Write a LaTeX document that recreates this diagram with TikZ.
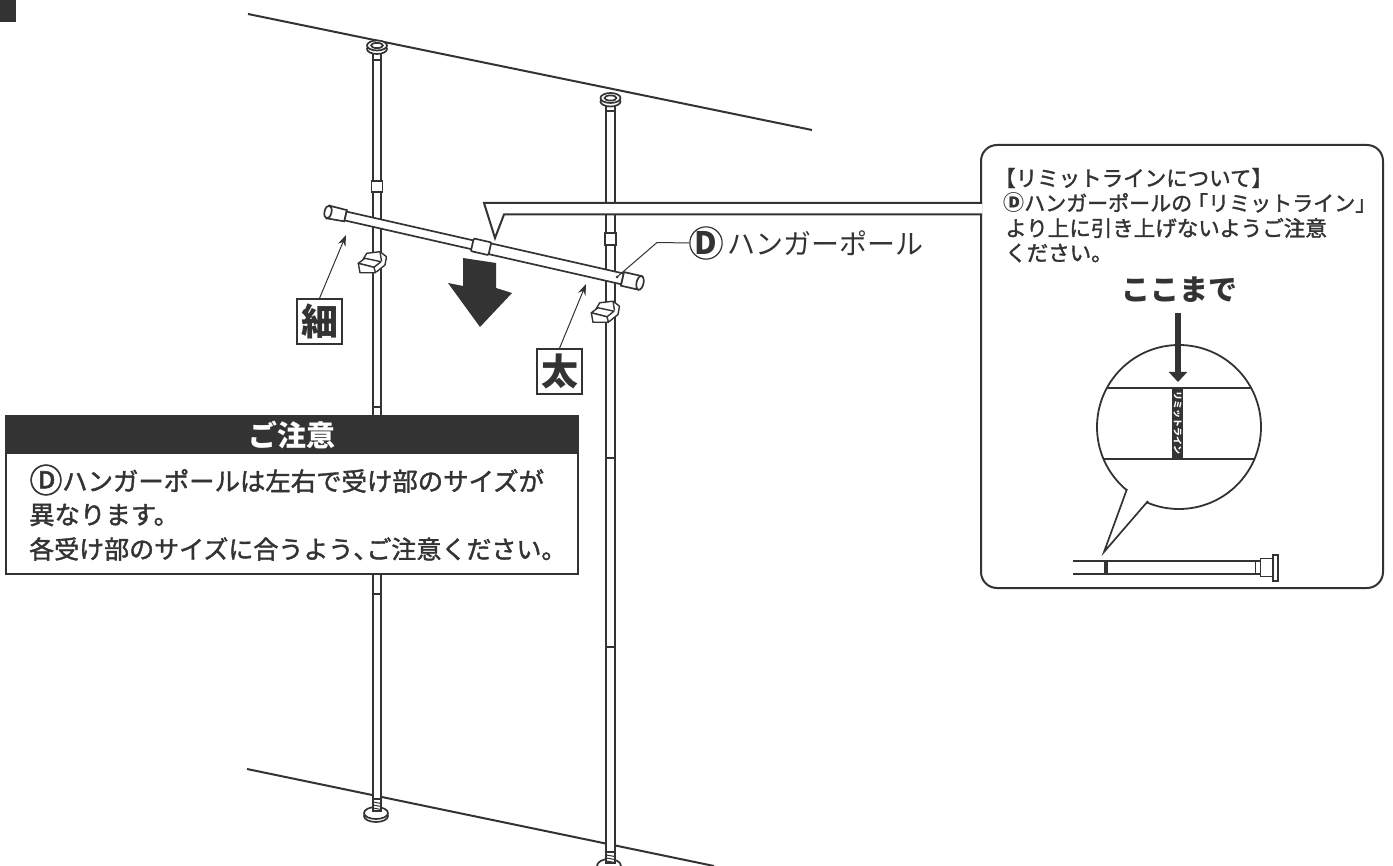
\documentclass[tikz,border=0pt]{standalone}
\usepackage{fontspec}
\usetikzlibrary{arrows.meta}
\newfontfamily\jp{Noto Sans CJK JP}
\newfontfamily\jpm[FakeBold=1.6]{Noto Sans CJK JP}
\definecolor{ink}{HTML}{333333}
\tikzset{
 ln/.style={draw=ink,line width=1.7pt},
 thin ln/.style={draw=ink,line width=1pt},
 plane/.style={draw=ink,line width=2pt},
 lab/.style={draw=ink,line width=1.4pt,fill=white,minimum width=45pt,minimum height=45pt,inner sep=0pt,font=\jp\bfseries\fontsize{37}{37}\selectfont,text=ink},
 ptr/.style={draw=ink,line width=1pt,-{Stealth[length=11pt,width=8pt]}},
 txt/.style={anchor=west,inner sep=0pt,text=ink,font=\jpm\fontsize{25.4}{25.4}\selectfont},
 ntxt/.style={anchor=west,inner sep=0pt,text=ink,font=\jpm\fontsize{21.5}{21.5}\selectfont},
}
\newcommand{\hookshape}[2]{%
 \begin{scope}[shift={(#1,#2)},line join=round]
  \filldraw[fill=white,draw=ink,line width=1.4pt] (363.3,259) -- (366.7,253.3) -- (380,251.7) -- (386.5,256.7) -- (385,265) -- (376.7,271.7) -- (372,272) -- cycle;
  \draw[draw=ink,line width=1.4pt] (380,251.7) -- (381.5,261);
  \filldraw[fill=white,draw=ink,line width=1.4pt] (358.3,263.3) -- (365,258.3) -- (381,261.7) -- (374,267.3) -- cycle;
  \filldraw[fill=white,draw=ink,line width=1.4pt] (358.3,263.3) -- (374,267.3) -- (375.5,272.8) -- (360,272.8) -- cycle;
 \end{scope}}
\begin{document}
\begin{tikzpicture}[x=1pt,y=-1pt]
\useasboundingbox (0,0) rectangle (1393,866);
\clip (0,0) rectangle (1393,866);
\fill[ink] (0,0) rectangle (16,22);
% ceiling and floor
\draw[plane] (248,14) -- (812,130);
\draw[plane] (247,769) -- (714,866);
% left pole
\filldraw[fill=white,draw=none] (373,52) rectangle (381,806);
\draw[ln] (373,52) -- (373,806) (381,52) -- (381,806);
\draw[ln] (373,60) -- (381,60) (373,407) -- (381,407) (373,594) -- (381,594);
\filldraw[ln,fill=white] (371.5,181) rectangle (382.5,192);
\filldraw[fill=white,ln] (377,49) ellipse[x radius=10,y radius=5];
\filldraw[fill=white,ln] (377,45.5) ellipse[x radius=10,y radius=5];
\draw[ln] (377,45.5) ellipse[x radius=6,y radius=2.6];
% right pole
\draw[ln,fill=white] (606,103) rectangle (615,866);
\draw[ln] (606,111) -- (615,111) (606,458) -- (615,458) (606,647) -- (615,647);
\filldraw[ln,fill=white] (605,233) rectangle (616,245);
\filldraw[fill=white,ln] (610.5,101.5) ellipse[x radius=10,y radius=5];
\filldraw[fill=white,ln] (610.5,98) ellipse[x radius=10,y radius=5];
\draw[ln] (610.5,98) ellipse[x radius=6,y radius=2.6];
% feet
\filldraw[fill=white,ln] (376,816) ellipse[x radius=12,y radius=6];
\filldraw[fill=white,ln] (376,813) ellipse[x radius=12,y radius=6];
\draw[ln,fill=white] (373,799) rectangle (381,811);
\foreach \yy in {802,805,808} \draw[thin ln] (373,\yy) -- (381,\yy+1.5);
\filldraw[fill=white,ln] (609,866) ellipse[x radius=12,y radius=7];
\draw[ln,fill=white] (606,852) rectangle (615,863);
\foreach \yy in {855,858,861} \draw[thin ln] (606,\yy) -- (615,\yy+1.5);
% hooks
\hookshape{0}{0}
\hookshape{233}{49.5}
% hanger pole
\begin{scope}[shift={(328,212)},rotate=-12.8]
 \filldraw[fill=white,ln] (0,-6.5) -- (18,-6) -- (18,5.5) -- (0,6.5) -- cycle;
 \filldraw[fill=white,ln] (0,0) ellipse[x radius=3.5,y radius=6.5];
 \filldraw[fill=white,ln] (18,-4.5) -- (150,-4.5) -- (150,4.5) -- (18,4.5) -- cycle;
 \filldraw[fill=white,ln] (165,-5.5) -- (302,-5.5) -- (302,5.5) -- (165,5.5) -- cycle;
 \filldraw[fill=white,ln,rounded corners=1pt] (148,-6.5) rectangle (166,6.5);
 \filldraw[fill=white,ln] (302,-7) -- (320,-7) -- (320,7) -- (302,7) -- cycle;
 \filldraw[fill=white,ln] (320,0) ellipse[x radius=3.5,y radius=7];
\end{scope}
% big arrow
\fill[ink] (463,258) -- (496,263) -- (496,288) -- (512,293) -- (480,327) -- (448,283) -- (463,286) -- cycle;
% labels
\node[lab] (hoso) at (319.5,321.5) {細};
\node[lab] (futo) at (559.5,371.5) {太};
\coordinate (hosoT) at (346,235);
\coordinate (futoT) at (586,284);
\draw[ptr] (hoso.north) -- (hosoT);
\draw[ptr] (futo.north) -- (futoT);
% D label
\node[circle,draw=ink,line width=1.2pt,minimum size=32pt,inner sep=0pt,font=\jp\bfseries\fontsize{31}{31}\selectfont,text=ink] (dmark) at (706,243) {D};
\node[anchor=west,inner sep=0pt,text=ink,font=\jp\fontsize{28}{28}\selectfont] (dname) at (727,243) {ハンガーポール};
\coordinate (dstart) at (617,277);
\coordinate (dbend) at (657,242.5);
\draw[thin ln] (dstart) -- (dbend) -- (dmark.west);
\fill[ink] (dstart) circle (1.5);
% note box
\node[draw=ink,line width=2pt,rounded corners=16pt,fill=white,minimum width=402pt,minimum height=443pt,inner sep=0pt] (note) at (1182,366.5) {};
\coordinate (cA) at (484,203);
\coordinate (cB) at (495,238);
\coordinate (cC) at (504,214.5);
\coordinate (cD) at (982,203);
\coordinate (cE) at (982,214.5);
\fill[white] (cA) -- (cD) -- (cE) -- (cC) -- (cB) -- cycle;
\draw[plane] (cD) -- (cA) -- (cB) -- (cC) -- (cE);
\node[ntxt] (n1) at (994,178) {【リミットラインについて】};
\node[ntxt,font=\jpm\fontsize{21}{21}\selectfont] (n2) at (1003,203) {{\jp\bfseries Ⓓ}ハンガーポールの\kern-5pt「リミットライン」};
\node[ntxt] (n3) at (1005,228) {より上に引き上げないようご注意};
\node[ntxt] (n4) at (1005,253) {ください。};
\node[inner sep=0pt,text=ink,font=\jp\bfseries\fontsize{29}{29}\selectfont] (koko) at (1179,290) {ここまで};
% bubble
\node[circle,draw=ink,line width=1.8pt,minimum size=164pt,inner sep=0pt,fill=white] (bub) at (1179,427) {};
\coordinate (tA) at (1127,489);
\coordinate (tB) at (1104,552);
\coordinate (tC) at (1148,501);
\fill[white] (tA) -- (tB) -- (tC) -- cycle;
\draw[ln,line join=miter] (tA) -- (tB) -- (tC);
\draw[ln] (1107,388) -- (1251,388) (1103.5,459) -- (1254.5,459);
\fill[ink] (1172,388) rectangle (1183,459);
\node[rotate=-90,inner sep=0pt,text=white,font=\jp\bfseries\fontsize{9}{9}\selectfont] (rl) at (1177.5,423.5) {リミットライン};
\coordinate (aS) at (1178,313);
\coordinate (aE) at (1178,382);
\draw[draw=ink,line width=6.5pt,-{Triangle[length=10pt,width=18pt]}] (aS) -- (aE);
% mini pole
\draw[ln] (1073,561) -- (1260,561) (1073,574) -- (1260,574);
\fill[ink] (1104,561) rectangle (1108,574);
\draw[thin ln] (1255,561) -- (1255,574);
\filldraw[fill=white,thin ln] (1260,558.5) rectangle (1273,576.5);
\filldraw[fill=white,ln] (1273,555) rectangle (1278,581);
% warning box
\node[draw=ink,line width=1.2pt,fill=white,minimum width=572pt,minimum height=158pt,inner sep=0pt] (warn) at (292,495) {};
\fill[ink] (6,416) rectangle (578,454);
\node[inner sep=0pt,text=white,font=\jp\bfseries\fontsize{29}{29}\selectfont] (wt) at (292,435) {ご注意};
\node[inner sep=0pt,text=ink,font=\jpm\fontsize{33}{33}\selectfont] (w0) at (46,480) {Ⓓ};
\node[txt] (w1) at (62,481) {ハンガーポールは左右で受け部のサイズが};
\node[txt] (w2) at (29,515) {異なります。};
\node[txt,font=\jpm\fontsize{25}{25}\selectfont] (w3) at (29,549) {各受け部のサイズに合うよう、\kern-12pt ご注意ください。};
\end{tikzpicture}
\end{document}
